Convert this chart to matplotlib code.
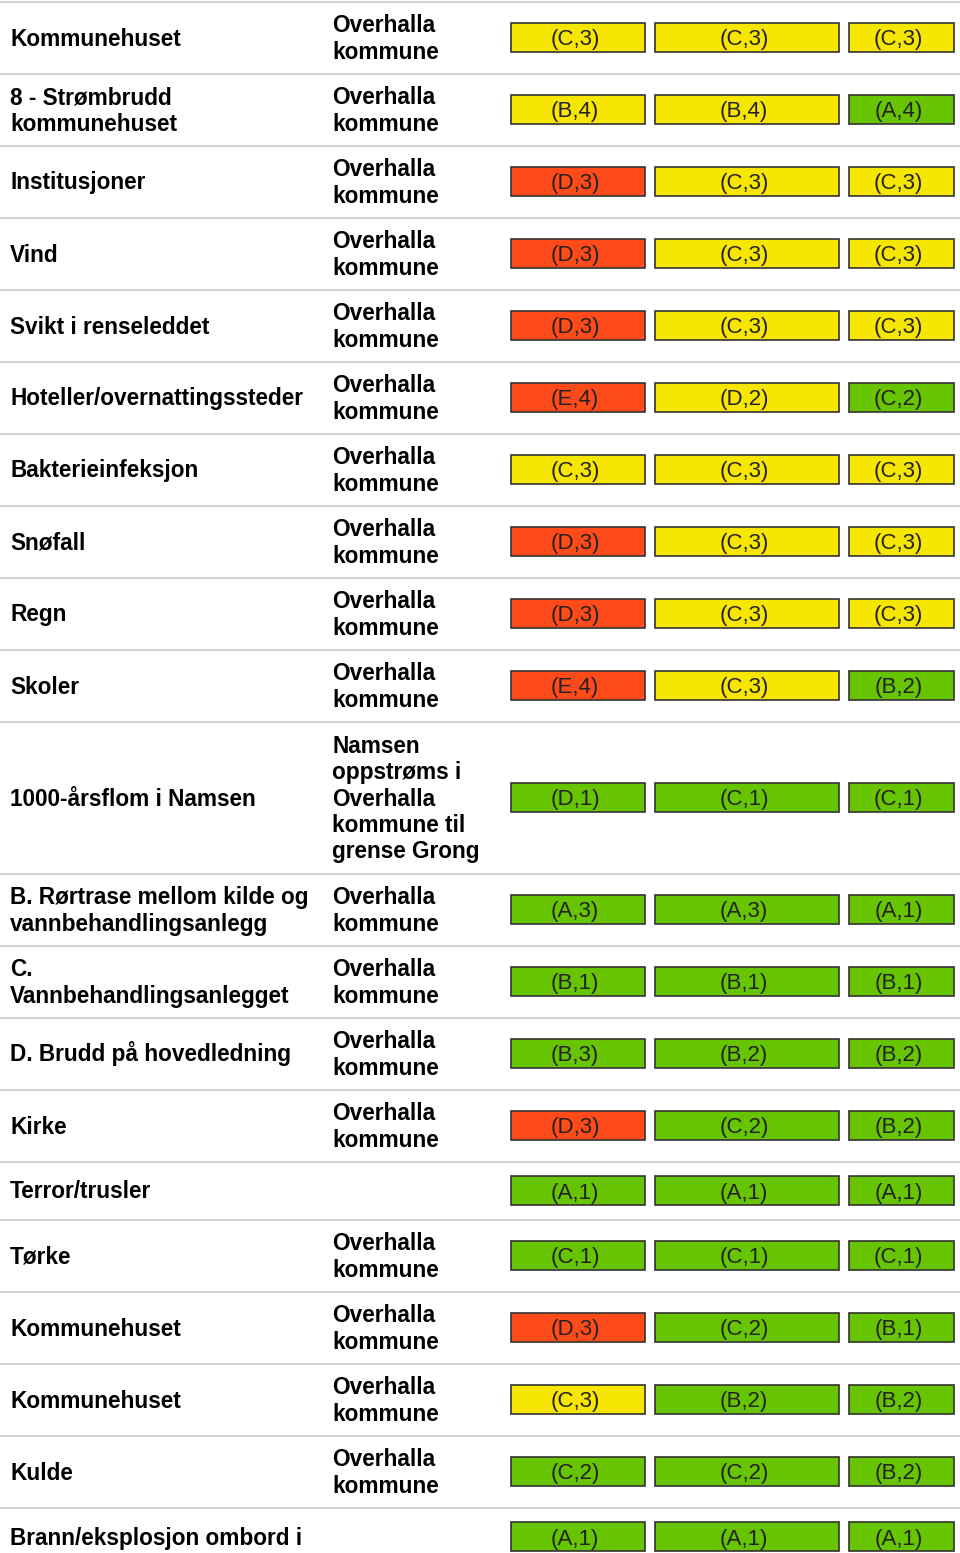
import matplotlib
matplotlib.use('Agg')
import matplotlib.pyplot as plt
from matplotlib.patches import Rectangle

plt.rcParams['font.family'] = ['Liberation Sans', 'DejaVu Sans']

# table content
hazards = ['Kommunehuset', '8 - Strømbrudd\nkommunehuset', 'Institusjoner', 'Vind',
           'Svikt i renseleddet', 'Hoteller/overnattingssteder', 'Bakterieinfeksjon',
           'Snøfall', 'Regn', 'Skoler', '1000-årsflom i Namsen',
           'B. Rørtrase mellom kilde og\nvannbehandlingsanlegg', 'C.\nVannbehandlingsanlegget',
           'D. Brudd på hovedledning', 'Kirke', 'Terror/trusler', 'Tørke', 'Kommunehuset',
           'Kommunehuset', 'Kulde', 'Brann/eksplosjon ombord i']
OK = 'Overhalla\nkommune'
areas = [OK] * 10 + ['Namsen\noppstrøms i\nOverhalla\nkommune til\ngrense Grong'] + [OK] * 4 + [''] + [OK] * 4 + ['']
risk_before = ['(C,3)', '(B,4)', '(D,3)', '(D,3)', '(D,3)', '(E,4)', '(C,3)', '(D,3)', '(D,3)', '(E,4)',
               '(D,1)', '(A,3)', '(B,1)', '(B,3)', '(D,3)', '(A,1)', '(C,1)', '(D,3)', '(C,3)', '(C,2)', '(A,1)']
risk_mid = ['(C,3)', '(B,4)', '(C,3)', '(C,3)', '(C,3)', '(D,2)', '(C,3)', '(C,3)', '(C,3)', '(C,3)',
            '(C,1)', '(A,3)', '(B,1)', '(B,2)', '(C,2)', '(A,1)', '(C,1)', '(C,2)', '(B,2)', '(C,2)', '(A,1)']
risk_after = ['(C,3)', '(A,4)', '(C,3)', '(C,3)', '(C,3)', '(C,2)', '(C,3)', '(C,3)', '(C,3)', '(B,2)',
              '(C,1)', '(A,1)', '(B,1)', '(B,2)', '(B,2)', '(A,1)', '(C,1)', '(B,1)', '(B,2)', '(B,2)', '(A,1)']

GREEN, YELLOW, RED = '#66C400', '#F7E600', '#FF4A1A'


def risk_color(code):
    letter, num = code.strip('()').split(',')
    score = 'ABCDE'.index(letter) + 1 + int(num)
    return GREEN if score <= 5 else (YELLOW if score == 6 else RED)


fig = plt.figure(figsize=(9.6, 15.53), dpi=100)
ax = fig.add_axes([0, 0, 1, 1])
ax.set_xlim(0, 960); ax.set_ylim(1553, 0); ax.axis('off')

LINE = 26.3
box_cols = [(511, 645), (655, 839), (849, 954)]
y = 1.5
ax.plot([0, 960], [y, y], color='#d4d4d4', lw=1.5)
for i, haz in enumerate(hazards):
    n = max(haz.count('\n'), areas[i].count('\n')) + 1
    h = max(58, 72 + (n - 2) * 80 / 3)
    c = y + h / 2
    for x0, txt in [(10, haz), (332, areas[i])]:
        lines = txt.split('\n') if txt else []
        for k, ln in enumerate(lines):
            ax.text(x0, c + 8 + (k - (len(lines) - 1) / 2) * LINE, ln, fontsize=16.3,
                    fontweight='bold', va='baseline', ha='left', color='black')
    for (x0, x1), code in zip(box_cols, [risk_before[i], risk_mid[i], risk_after[i]]):
        ax.add_patch(Rectangle((x0, c - 14.5), x1 - x0, 29, facecolor=risk_color(code),
                               edgecolor='#333333', lw=1.2))
        ax.text((x0 + x1) / 2 - 3, c + 8, code, fontsize=16, va='baseline', ha='center', color='#222222')
    y += h
    ax.plot([0, 960], [y, y], color='#d4d4d4', lw=1.5)

fig.savefig('out.png', dpi=100)
